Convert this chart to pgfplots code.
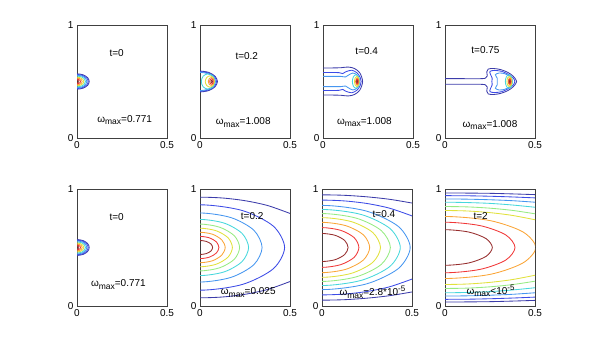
\documentclass[border=0pt]{standalone}
\usepackage{fontspec}
\setmainfont{Liberation Sans}
\usepackage{pgfplots}
\pgfplotsset{compat=1.18}

\definecolor{c1}{RGB}{150,45,45}
\definecolor{c2}{RGB}{240,55,55}
\definecolor{c3}{RGB}{250,165,55}
\definecolor{c4}{RGB}{225,225,60}
\definecolor{c5}{RGB}{150,235,130}
\definecolor{c6}{RGB}{70,215,220}
\definecolor{c7}{RGB}{70,150,240}
\definecolor{c8}{RGB}{60,75,230}
\definecolor{c9}{RGB}{60,60,170}

\newcommand{\fs}{\fontsize{10}{11}\selectfont}
\newcommand{\wmax}{ω\raisebox{-0.5ex}{\fontsize{8.5}{9}\selectfont max}}
\newcommand{\sptext}[1]{\raisebox{0.75ex}{\fontsize{8}{8}\selectfont #1}}

\pgfplotsset{panel/.style={
  scale only axis, width=90pt, anchor=south west,
  xmin=0, xmax=0.5, ymin=0, ymax=1,
  xtick={0,0.5}, xticklabels={0,0.5},
  ytick={0,1}, yticklabels={0,1},
  major tick length=0pt,
  tick label style={font=\fs},
  axis line style={black!75, line width=0.5pt},
  every axis plot/.append style={line width=0.85pt, smooth, mark=none},
}}

\begin{document}
\begin{tikzpicture}
\path (0,0) rectangle (595pt,345pt);

% ---------- top row ----------
\begin{axis}[panel, at={(77pt,207pt)}, height=113pt]
\addplot[c9] coordinates {(-.034,.441)(0,.432)(.034,.441)(.059,.466)(.068,.5)(.059,.534)(.034,.559)(0,.568)(-.034,.559)};
\addplot[c8] coordinates {(-.031,.446)(0,.438)(.031,.446)(.054,.469)(.062,.5)(.054,.531)(.031,.554)(0,.562)(-.031,.554)};
\addplot[c7] coordinates {(-.028,.452)(0,.445)(.028,.452)(.048,.4725)(.055,.5)(.048,.5275)(.028,.548)(0,.555)(-.028,.548)};
\addplot[c6] coordinates {(-.024,.459)(0,.453)(.024,.459)(.041,.4765)(.047,.5)(.041,.5235)(.024,.541)(0,.547)(-.024,.541)};
\addplot[c4] coordinates {(-.019,.467)(0,.462)(.019,.467)(.033,.481)(.038,.5)(.033,.519)(.019,.533)(0,.538)(-.019,.533)};
\addplot[c3] coordinates {(-.015,.475)(0,.471)(.015,.475)(.025,.4855)(.029,.5)(.025,.5145)(.015,.525)(0,.529)(-.015,.525)};
\addplot[c2] coordinates {(-.01,.483)(0,.48)(.01,.483)(.017,.49)(.02,.5)(.017,.51)(.01,.517)(0,.52)(-.01,.517)};
\addplot[c1] coordinates {(-.005,.491)(0,.49)(.005,.491)(.009,.495)(.01,.5)(.009,.505)(.005,.509)(0,.51)(-.005,.509)};
\node[font=\fs] at (axis cs:.22,.75) {t=0};
\node[font=\fs] at (axis cs:.265,.16) {\wmax=0.771};
\end{axis}

\begin{axis}[panel, at={(200pt,207pt)}, height=113pt]
\addplot[c9] coordinates {(-.049,.42)(0,.408)(.049,.42)(.084,.454)(.097,.5)(.084,.546)(.049,.58)(0,.592)(-.049,.58)};
\addplot[c8] coordinates {(-.046,.425)(0,.413)(.046,.425)(.08,.457)(.092,.5)(.08,.544)(.046,.575)(0,.587)(-.046,.575)};
\addplot[c7] coordinates {(-.043,.43)(0,.419)(.043,.43)(.075,.46)(.086,.5)(.075,.541)(.043,.57)(0,.581)(-.043,.57)};
\addplot[c6] coordinates {(.083,.5)(.072,.548)(.045,.568)(.018,.548)(.007,.5)(.018,.452)(.045,.432)(.072,.452)(.083,.5)};
\addplot[c4] coordinates {(.081,.5)(.073,.535)(.055,.55)(.037,.535)(.029,.5)(.037,.465)(.055,.45)(.073,.465)(.081,.5)};
\addplot[c3] coordinates {(.078,.5)(.073,.525)(.062,.535)(.051,.525)(.046,.5)(.051,.475)(.062,.465)(.073,.475)(.078,.5)};
\addplot[c2] coordinates {(.074,.5)(.071,.517)(.064,.524)(.057,.517)(.054,.5)(.057,.483)(.064,.476)(.071,.483)(.074,.5)};
\addplot[c1] coordinates {(.069,.5)(.068,.507)(.065,.51)(.062,.507)(.061,.5)(.062,.493)(.065,.49)(.068,.493)(.069,.5)};
\node[font=\fs] at (axis cs:.26,.725) {t=0.2};
\node[font=\fs] at (axis cs:.24,.135) {\wmax=1.008};
\end{axis}

\begin{axis}[panel, at={(323pt,207pt)}, height=113pt]
\addplot[c9] coordinates {(0,.62)(.05,.62)(.1,.622)(.14,.628)(.175,.615)(.205,.575)(.22,.5)(.205,.425)(.175,.385)(.14,.372)(.1,.378)(.05,.38)(0,.38)};
\addplot[c8] coordinates {(0,.58)(.05,.58)(.09,.578)(.11,.57)(.125,.585)(.16,.6)(.19,.575)(.207,.535)(.212,.5)(.207,.465)(.19,.425)(.16,.4)(.125,.415)(.11,.43)(.09,.422)(.05,.42)(0,.42)};
\addplot[c7] coordinates {(0,.545)(.05,.545)(.1,.545)(.125,.54)(.14,.555)(.165,.575)(.188,.56)(.2,.53)(.203,.5)(.2,.47)(.188,.44)(.165,.425)(.14,.445)(.125,.46)(.1,.455)(.05,.455)(0,.455)};
\addplot[c6] coordinates {(.203,.5)(.197,.542)(.183,.56)(.169,.542)(.163,.5)(.169,.458)(.183,.44)(.197,.458)(.203,.5)};
\addplot[c4] coordinates {(.201,.5)(.197,.532)(.188,.545)(.179,.532)(.175,.5)(.179,.468)(.188,.455)(.197,.468)(.201,.5)};
\addplot[c3] coordinates {(.199,.5)(.196,.523)(.19,.532)(.184,.523)(.181,.5)(.184,.477)(.19,.468)(.196,.477)(.199,.5)};
\addplot[c2] coordinates {(.196,.5)(.194,.516)(.19,.522)(.186,.516)(.184,.5)(.186,.484)(.19,.478)(.194,.484)(.196,.5)};
\addplot[c1] coordinates {(.193,.5)(.192,.507)(.19,.51)(.188,.507)(.187,.5)(.188,.493)(.19,.49)(.192,.493)(.193,.5)};
\node[font=\fs] at (axis cs:.243,.765) {t=0.4};
\node[font=\fs] at (axis cs:.23,.14) {\wmax=1.008};
\end{axis}

\begin{axis}[panel, at={(445pt,207pt)}, height=113pt]
\addplot[c9] coordinates {(0,.525)(.1,.525)(.2,.525)(.225,.53)(.235,.55)(.232,.585)(.24,.61)(.27,.615)(.31,.605)(.35,.58)(.38,.545)(.398,.5)(.38,.455)(.35,.42)(.31,.395)(.27,.385)(.24,.39)(.232,.415)(.235,.45)(.225,.47)(.2,.475)(.1,.475)(0,.475)};
\addplot[c8] coordinates {(.26,.5)(.262,.53)(.252,.565)(.25,.59)(.275,.598)(.315,.59)(.35,.565)(.377,.535)(.388,.5)(.377,.465)(.35,.435)(.315,.41)(.275,.402)(.25,.41)(.252,.435)(.262,.47)(.26,.5)};
\addplot[c7] coordinates {(.29,.5)(.29,.53)(.28,.56)(.3,.575)(.33,.57)(.355,.55)(.37,.525)(.375,.5)(.37,.475)(.355,.45)(.33,.43)(.3,.425)(.28,.44)(.29,.47)(.29,.5)};
\addplot[c6] coordinates {(.375,.5)(.369,.542)(.355,.56)(.341,.542)(.335,.5)(.341,.458)(.355,.44)(.369,.458)(.375,.5)};
\addplot[c4] coordinates {(.372,.5)(.368,.532)(.358,.545)(.348,.532)(.344,.5)(.348,.468)(.358,.455)(.368,.468)(.372,.5)};
\addplot[c3] coordinates {(.369,.5)(.366,.523)(.36,.532)(.354,.523)(.351,.5)(.354,.477)(.36,.468)(.366,.477)(.369,.5)};
\addplot[c2] coordinates {(.366,.5)(.364,.516)(.36,.522)(.356,.516)(.354,.5)(.356,.484)(.36,.478)(.364,.484)(.366,.5)};
\addplot[c1] coordinates {(.363,.5)(.362,.507)(.36,.51)(.358,.507)(.357,.5)(.358,.493)(.36,.49)(.362,.493)(.363,.5)};
\node[font=\fs] at (axis cs:.225,.775) {t=0.75};
\node[font=\fs] at (axis cs:.25,.115) {\wmax=1.008};
\end{axis}

% ---------- bottom row ----------
\begin{axis}[panel, at={(77pt,39pt)}, height=117pt]
\addplot[c9] coordinates {(-.034,.441)(0,.432)(.034,.441)(.059,.466)(.068,.5)(.059,.534)(.034,.559)(0,.568)(-.034,.559)};
\addplot[c8] coordinates {(-.031,.446)(0,.438)(.031,.446)(.054,.469)(.062,.5)(.054,.531)(.031,.554)(0,.562)(-.031,.554)};
\addplot[c7] coordinates {(-.028,.452)(0,.445)(.028,.452)(.048,.4725)(.055,.5)(.048,.5275)(.028,.548)(0,.555)(-.028,.548)};
\addplot[c6] coordinates {(-.024,.459)(0,.453)(.024,.459)(.041,.4765)(.047,.5)(.041,.5235)(.024,.541)(0,.547)(-.024,.541)};
\addplot[c4] coordinates {(-.019,.467)(0,.462)(.019,.467)(.033,.481)(.038,.5)(.033,.519)(.019,.533)(0,.538)(-.019,.533)};
\addplot[c3] coordinates {(-.015,.475)(0,.471)(.015,.475)(.025,.4855)(.029,.5)(.025,.5145)(.015,.525)(0,.529)(-.015,.525)};
\addplot[c2] coordinates {(-.01,.483)(0,.48)(.01,.483)(.017,.49)(.02,.5)(.017,.51)(.01,.517)(0,.52)(-.01,.517)};
\addplot[c1] coordinates {(-.005,.491)(0,.49)(.005,.491)(.009,.495)(.01,.5)(.009,.505)(.005,.509)(0,.51)(-.005,.509)};
\node[font=\fs] at (axis cs:.22,.757) {t=0};
\node[font=\fs] at (axis cs:.23,.186) {\wmax=0.771};
\end{axis}

\begin{axis}[panel, at={(200pt,39pt)}, height=117pt]
\addplot[c1] coordinates {(-.035,.448)(0,.44)(.035,.448)(.061,.47)(.07,.5)(.061,.53)(.035,.552)(0,.56)(-.035,.552)};
\addplot[c2] coordinates {(-.053,.418)(0,.405)(.053,.418)(.091,.453)(.105,.5)(.091,.548)(.053,.582)(0,.595)(-.053,.582)};
\addplot[c3] coordinates {(-.07,.387)(0,.37)(.07,.387)(.121,.435)(.14,.5)(.121,.565)(.07,.613)(0,.63)(-.07,.613)};
\addplot[c4] coordinates {(-.09,.357)(0,.335)(.09,.357)(.156,.418)(.18,.5)(.156,.583)(.09,.643)(0,.665)(-.09,.643)};
\addplot[c5] coordinates {(-.11,.327)(0,.3)(.11,.327)(.191,.4)(.22,.5)(.191,.6)(.11,.673)(0,.7)(-.11,.673)};
\addplot[c6] coordinates {(-.135,.292)(0,.26)(.135,.292)(.234,.38)(.27,.5)(.234,.62)(.135,.708)(0,.74)(-.135,.708)};
\addplot[c7] coordinates {(-.173,.245)(0,.205)(.173,.245)(.299,.353)(.345,.5)(.299,.648)(.173,.755)(0,.795)(-.173,.755)};
\addplot[c8] coordinates {(-.235,.184)(0,.135)(.235,.184)(.407,.318)(.47,.5)(.407,.683)(.235,.816)(0,.865)(-.235,.816)};
\addplot[c9] coordinates {(-.125,.923)(0,.93)(.125,.923)(.25,.9)(.375,.859)(.5,.791)};
\addplot[c9] coordinates {(-.125,.077)(0,.07)(.125,.077)(.25,.1)(.375,.141)(.5,.209)};
\node[font=\fs] at (axis cs:.29,.765) {t=0.2};
\node[font=\fs] at (axis cs:.268,.116) {\wmax=0.025};
\end{axis}

\begin{axis}[panel, at={(322pt,39pt)}, height=117pt]
\addplot[c1] coordinates {(-.073,.396)(0,.38)(.073,.396)(.126,.44)(.145,.5)(.126,.56)(.073,.604)(0,.62)(-.073,.604)};
\addplot[c2] coordinates {(-.103,.353)(0,.33)(.103,.353)(.178,.415)(.205,.5)(.178,.585)(.103,.647)(0,.67)(-.103,.647)};
\addplot[c3] coordinates {(-.133,.314)(0,.285)(.133,.314)(.23,.393)(.265,.5)(.23,.608)(.133,.686)(0,.715)(-.133,.686)};
\addplot[c4] coordinates {(-.163,.279)(0,.245)(.163,.279)(.282,.373)(.325,.5)(.282,.628)(.163,.721)(0,.755)(-.163,.721)};
\addplot[c5] coordinates {(-.19,.249)(0,.21)(.19,.249)(.329,.355)(.38,.5)(.329,.645)(.19,.751)(0,.79)(-.19,.751)};
\addplot[c6] coordinates {(-.218,.219)(0,.175)(.218,.219)(.377,.338)(.435,.5)(.377,.663)(.218,.782)(0,.825)(-.218,.782)};
\addplot[c7] coordinates {(-.245,.188)(0,.14)(.245,.188)(.424,.32)(.49,.5)(.424,.68)(.245,.812)(0,.86)(-.245,.812)};
\addplot[c8] coordinates {(-.125,.898)(0,.905)(.125,.898)(.25,.876)(.375,.836)(.5,.770)};
\addplot[c8] coordinates {(-.125,.102)(0,.095)(.125,.102)(.25,.124)(.375,.164)(.5,.230)};
\addplot[c9] coordinates {(-.125,.946)(0,.95)(.125,.946)(.25,.933)(.375,.912)(.5,.88)};
\addplot[c9] coordinates {(-.125,.054)(0,.05)(.125,.054)(.25,.067)(.375,.088)(.5,.12)};
\node[font=\fs] at (axis cs:.344,.785) {t=0.4};
\node[font=\fs] at (axis cs:.28,.116) {\wmax=2.8*10\sptext{-5}};
\end{axis}

\begin{axis}[panel, at={(445pt,39pt)}, height=117pt]
\addplot[c1] coordinates {(-.132,.368)(0,.348)(.132,.368)(.228,.424)(.263,.5)(.228,.576)(.132,.632)(0,.652)(-.132,.632)};
\addplot[c2] coordinates {(-.195,.313)(0,.284)(.195,.313)(.337,.392)(.389,.5)(.337,.608)(.195,.687)(0,.716)(-.195,.687)};
\addplot[c3] coordinates {(-.25,.27)(0,.235)(.25,.27)(.433,.368)(.505,.5)(.433,.633)(.25,.73)(0,.765)(-.25,.73)};
\addplot[c4] coordinates {(-.125,.812)(0,.816)(.125,.812)(.25,.798)(.375,.774)(.5,.737)};
\addplot[c4] coordinates {(-.125,.188)(0,.184)(.125,.188)(.25,.202)(.375,.226)(.5,.263)};
\addplot[c5] coordinates {(-.125,.847)(0,.85)(.125,.847)(.25,.836)(.375,.817)(.5,.788)};
\addplot[c5] coordinates {(-.125,.153)(0,.15)(.125,.153)(.25,.164)(.375,.183)(.5,.212)};
\addplot[c6] coordinates {(-.125,.884)(0,.887)(.125,.884)(.25,.877)(.375,.863)(.5,.844)};
\addplot[c6] coordinates {(-.125,.116)(0,.113)(.125,.116)(.25,.123)(.375,.137)(.5,.156)};
\addplot[c7] coordinates {(-.125,.913)(0,.915)(.125,.913)(.25,.908)(.375,.900)(.5,.887)};
\addplot[c7] coordinates {(-.125,.087)(0,.085)(.125,.087)(.25,.092)(.375,.100)(.5,.113)};
\addplot[c8] coordinates {(-.125,.942)(0,.943)(.125,.942)(.25,.938)(.375,.932)(.5,.924)};
\addplot[c8] coordinates {(-.125,.058)(0,.057)(.125,.058)(.25,.062)(.375,.068)(.5,.076)};
\addplot[c9] coordinates {(-.125,.965)(0,.966)(.125,.965)(.25,.963)(.375,.958)(.5,.952)};
\addplot[c9] coordinates {(-.125,.035)(0,.034)(.125,.035)(.25,.037)(.375,.042)(.5,.048)};
\node[font=\fs] at (axis cs:.198,.765) {t=2};
\node[font=\fs] at (axis cs:.253,.13) {\wmax<10\sptext{-5}};
\end{axis}
\end{tikzpicture}
\end{document}
